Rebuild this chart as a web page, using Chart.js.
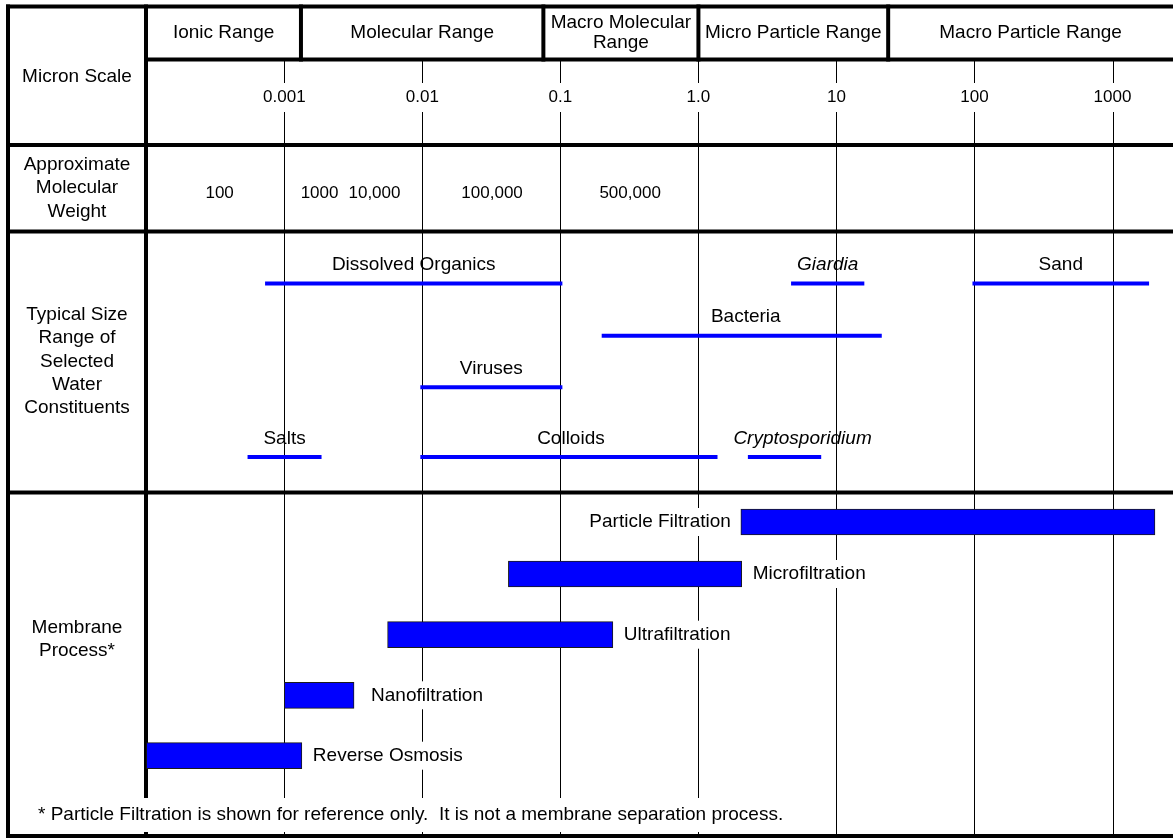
<!DOCTYPE html>
<html><head><meta charset="utf-8">
<script src="https://cdn.jsdelivr.net/npm/chart.js@4.4.1/dist/chart.umd.min.js"></script>
<style>html,body{margin:0;padding:0;background:#fff;}canvas{display:block;}</style>
</head><body>
<canvas id="c" width="1173" height="838"></canvas>
<script>
// ---------------- DATA (sizes in microns) ----------------
const sizeRanges = ['Ionic Range', 'Molecular Range', 'Macro Molecular\nRange', 'Micro Particle Range', 'Macro Particle Range'];
const sizeRangeBounds = [0.0001, 0.00132, 0.0753, 1, 23.7, 2743];
const micronTicks = [0.001, 0.01, 0.1, 1, 10, 100, 1000];
const micronTickLabels = ['0.001', '0.01', '0.1', '1.0', '10', '100', '1000'];
const molecularWeights = ['100', '1000', '10,000', '100,000', '500,000'];
const molecularWeightMicron = [0.00034, 0.0018, 0.0045, 0.032, 0.32];
const constituents = ['Dissolved Organics', 'Giardia', 'Sand', 'Bacteria', 'Viruses', 'Salts', 'Colloids', 'Cryptosporidium'];
const constituentMin = [0.00075, 4.85, 100, 0.206, 0.01, 0.00056, 0.01, 2.36];
const constituentMax = [0.1, 15.4, 1780, 20.6, 0.1, 0.0018, 1.33, 7.5];
const constituentItalic = [false, true, false, false, false, false, false, true];
const processes = ['Particle Filtration', 'Microfiltration', 'Ultrafiltration', 'Nanofiltration', 'Reverse Osmosis'];
const processMin = [2.03, 0.042, 0.0056, 0.001, 0.0001];
const processMax = [2030, 2.06, 0.24, 0.0032, 0.00134];
const rowLabels = [['Micron Scale'], ['Approximate', 'Molecular', 'Weight'], ['Typical Size', 'Range of', 'Selected', 'Water', 'Constituents'], ['Membrane', 'Process*']];
const footnote = '* Particle Filtration is shown for reference only.  It is not a membrane separation process.';

// ---------------- LAYOUT (vertical lanes on the y scale, table geometry) ----------------
const L = {
  tableLeft: 8, colSep: 146, tableTop: 6.5, headerBottom: 59.5, rowSeps: [145, 231.5, 492.5], tableBottom: 836,
  micronLabelY: 97, micronGap: [83, 112], mwLabelY: 193,
  rowLabelY: [76.5, 188, 361.5, 639.5], rowLabelLH: [23, 23.3, 23.3, 22.5],
  headerY: 33, headerLH: 20,
  constituentLane: [283.5, 283.5, 283.5, 335.7, 387.3, 457, 457, 457],
  constituentLabelShift: [0, 0, 0, 4, 0, 0, 2, 18],
  constituentLabelRise: 18.5,
  processLane: [522, 574, 634.7, 695.3, 755.7],
  processLabelSide: ['left', 'right', 'right', 'right', 'right'],
  processLabelGap: [10, 11, 11, 17, 11],
  footnoteX: 38, footnoteY: 815,
  font: '"Liberation Sans", Arial, sans-serif'
};
const BLUE = '#0000ff';

const tablePlugin = {
  id: 'table',
  beforeDatasetsDraw(chart) {
    const ctx = chart.ctx, xs = chart.scales.x;
    const X = v => xs.getPixelForValue(v);
    const W = chart.width;
    const seg = (x1, y1, x2, y2) => { ctx.beginPath(); ctx.moveTo(x1, y1); ctx.lineTo(x2, y2); ctx.stroke(); };
    ctx.save();
    ctx.fillStyle = '#fff'; ctx.fillRect(0, 0, W, chart.height);
    // decade lines
    ctx.strokeStyle = '#000'; ctx.lineWidth = 1;
    micronTicks.forEach(v => {
      const x = Math.round(X(v)) + 0.5;
      seg(x, L.headerBottom, x, L.micronGap[0]);
      seg(x, L.micronGap[1], x, L.tableBottom);
    });
    // thick table lines
    ctx.lineWidth = 4; ctx.lineCap = 'square';
    seg(L.tableLeft, L.tableTop, W + 5, L.tableTop);
    seg(L.tableLeft, L.tableBottom, W + 5, L.tableBottom);
    seg(L.tableLeft, L.tableTop, L.tableLeft, L.tableBottom);
    seg(L.colSep, L.tableTop, L.colSep, L.tableBottom);
    seg(L.colSep, L.headerBottom, W + 5, L.headerBottom);
    L.rowSeps.forEach(y => seg(L.tableLeft, y, W + 5, y));
    sizeRangeBounds.slice(1, -1).forEach(b => { const x = X(b); seg(x, L.tableTop, x, L.headerBottom); });
    // texts
    ctx.fillStyle = '#000'; ctx.textBaseline = 'middle'; ctx.textAlign = 'center';
    ctx.font = '19px ' + L.font;
    sizeRanges.forEach((name, i) => {
      const cx = (X(sizeRangeBounds[i]) + X(sizeRangeBounds[i + 1])) / 2;
      const lines = name.split('\n');
      lines.forEach((t, j) => ctx.fillText(t, cx, L.headerY + (j - (lines.length - 1) / 2) * L.headerLH));
    });
    const lcx = (L.tableLeft + L.colSep) / 2;
    rowLabels.forEach((lines, i) => {
      lines.forEach((t, j) => ctx.fillText(t, lcx, L.rowLabelY[i] + (j - (lines.length - 1) / 2) * L.rowLabelLH[i]));
    });
    ctx.font = '17px ' + L.font;
    micronTicks.forEach((v, i) => ctx.fillText(micronTickLabels[i], X(v), L.micronLabelY));
    molecularWeights.forEach((t, i) => ctx.fillText(t, X(molecularWeightMicron[i]), L.mwLabelY));
    ctx.restore();
  },
  afterDatasetsDraw(chart) {
    const ctx = chart.ctx, xs = chart.scales.x, ys = chart.scales.y;
    const X = v => xs.getPixelForValue(v);
    const Y = v => ys.getPixelForValue(v);
    ctx.save();
    ctx.fillStyle = '#000'; ctx.textBaseline = 'middle';
    // constituent labels
    ctx.textAlign = 'center';
    constituents.forEach((name, i) => {
      ctx.font = (constituentItalic[i] ? 'italic ' : '') + '19px ' + L.font;
      const cx = (X(constituentMin[i]) + X(constituentMax[i])) / 2 + L.constituentLabelShift[i];
      ctx.fillText(name, cx, Y(L.constituentLane[i]) - L.constituentLabelRise);
    });
    // membrane labels with white boxes
    ctx.font = '19px ' + L.font;
    processes.forEach((name, i) => {
      const w = ctx.measureText(name).width;
      const y = Y(L.processLane[i]);
      let x0;
      if (L.processLabelSide[i] === 'left') x0 = X(processMin[i]) - L.processLabelGap[i] - w;
      else x0 = X(processMax[i]) + L.processLabelGap[i];
      ctx.fillStyle = '#fff'; ctx.fillRect(x0 - 3, y - 14, w + 6, 28);
      ctx.fillStyle = '#000'; ctx.textAlign = 'left'; ctx.fillText(name, x0, y);
    });
    // footnote
    const fw = ctx.measureText(footnote).width;
    ctx.fillStyle = '#fff'; ctx.fillRect(L.footnoteX - 4, L.footnoteY - 17, fw + 8, 34);
    ctx.fillStyle = '#000'; ctx.textAlign = 'left'; ctx.fillText(footnote, L.footnoteX, L.footnoteY);
    ctx.restore();
  }
};

const constituentDatasets = constituents.map((name, i) => ({
  type: 'line', label: name, indexAxis: 'x',
  data: [{ x: constituentMin[i], y: L.constituentLane[i] }, { x: constituentMax[i], y: L.constituentLane[i] }],
  borderColor: BLUE, borderWidth: 4, borderCapStyle: 'square', pointRadius: 0, fill: false, tension: 0, order: 1
}));
const processDataset = {
  type: 'bar', label: 'Membrane Process', indexAxis: 'y', grouped: false,
  data: processes.map((p, i) => ({ x: [processMin[i], processMax[i]], y: L.processLane[i] })),
  backgroundColor: BLUE, borderColor: '#1a1a1a', borderWidth: 1, borderSkipped: false, barThickness: 26, order: 2
};

new Chart(document.getElementById('c'), {
  type: 'bar',
  data: { datasets: [processDataset, ...constituentDatasets] },
  options: {
    responsive: false, animation: false, devicePixelRatio: 1, indexAxis: 'y',
    layout: { padding: { left: 698.4 - 4 * 138.03, right: 0, top: 0, bottom: 0 } },
    plugins: { legend: { display: false }, tooltip: { enabled: false }, title: { display: false } },
    scales: {
      x: { type: 'logarithmic', min: sizeRangeBounds[0], max: sizeRangeBounds[sizeRangeBounds.length - 1], display: false, offset: false },
      y: { type: 'linear', min: 0, max: 838, reverse: true, display: false, offset: false }
    }
  },
  plugins: [tablePlugin]
});
</script>
</body></html>
